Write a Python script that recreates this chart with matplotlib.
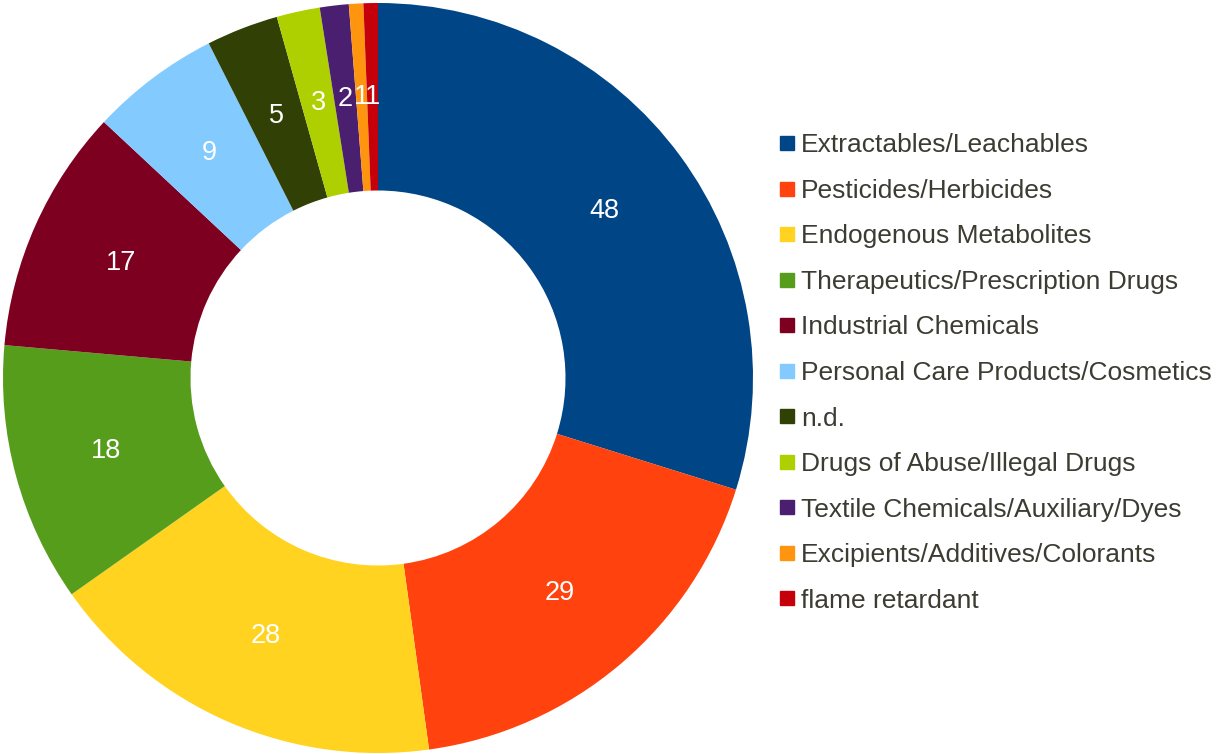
import matplotlib
matplotlib.use("Agg")
import matplotlib.pyplot as plt
from matplotlib.lines import Line2D

plt.rcParams["font.family"] = ["Liberation Sans", "DejaVu Sans"]

categories = [
    "Extractables/Leachables",
    "Pesticides/Herbicides",
    "Endogenous Metabolites",
    "Therapeutics/Prescription Drugs",
    "Industrial Chemicals",
    "Personal Care Products/Cosmetics",
    "n.d.",
    "Drugs of Abuse/Illegal Drugs",
    "Textile Chemicals/Auxiliary/Dyes",
    "Excipients/Additives/Colorants",
    "flame retardant",
]
counts = [48, 29, 28, 18, 17, 9, 5, 3, 2, 1, 1]
colors = ["#004586", "#FF420E", "#FFD320", "#579D1C", "#7E0021", "#83CAFF",
          "#314004", "#AECF00", "#4B1F6F", "#FF950E", "#C5000B"]

W, H = 1216, 754
fig = plt.figure(figsize=(W / 100, H / 100), dpi=100)
R = 375
cx, cy = 378, 378
ax = fig.add_axes([(cx - R) / W, (H - cy - R) / H, 2 * R / W, 2 * R / H])

wedges, texts = ax.pie(counts, colors=colors, startangle=90, counterclock=False,
                       radius=1, labels=[str(c) for c in counts], labeldistance=0.75,
                       wedgeprops=dict(width=0.5, linewidth=0),
                       textprops=dict(color="white", fontsize=19.5, ha="center", va="center"))
ax.set_xlim(-1, 1)
ax.set_ylim(-1, 1)
ax.set_aspect("equal")
ax.axis("off")

handles = [Line2D([], [], marker="s", linestyle="none", markersize=10,
                  markerfacecolor=c, markeredgecolor=c) for c in colors]
leg = fig.legend(handles, categories, loc="center left",
                 bbox_to_anchor=(780 / W, 1 - 373 / H), frameon=False,
                 fontsize=19, labelspacing=0.815, handlelength=0.5,
                 handletextpad=0.3, borderpad=0, borderaxespad=0)
for t in leg.get_texts():
    t.set_color("#3C3C33")

fig.savefig("out.png", dpi=100)
